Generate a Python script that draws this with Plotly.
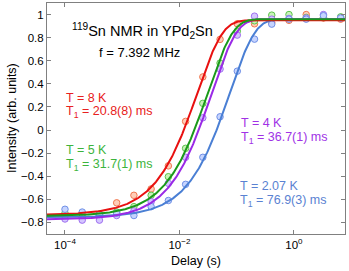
import numpy as np
import plotly.graph_objects as go

# Delay values (s)
delay = [1e-4, 2e-4, 4e-4, 8e-4, 1.6e-3, 3.2e-3, 6.4e-3, 1.28e-2, 2.56e-2,
         5.12e-2, 0.1024, 0.2048, 0.4096, 0.8192, 1.6384, 3.2768, 6.5536]

# Measured intensities
int_8K = [-0.74, -0.75, -0.73, -0.63, -0.565, -0.51, -0.31, 0.075, 0.46,
          0.785, 0.92, 0.92, 0.93, 0.95, 1.0, 0.97, 0.96]
int_5K = [-0.72, -0.755, -0.727, -0.71, -0.663, -0.565, -0.404, -0.158, 0.231,
          0.58, 0.856, 0.946, 0.995, 1.0, 0.975, 0.975, 0.98]
int_4K = [-0.77, -0.78, -0.78, -0.74, -0.70, -0.62, -0.461, -0.236, 0.106,
          0.528, 0.822, 0.986, 0.96, 0.966, 0.97, 1.0, 0.97]
int_2K = [-0.686, -0.71, -0.73, -0.72, -0.74, -0.663, -0.61, -0.47, -0.236,
          0.115, 0.51, 0.787, 0.917, 0.96, 0.96, 0.99, 0.97]

# Fit parameters: T1 (s), plateau, baseline
fit_T1 = [0.0208, 0.0317, 0.0367, 0.0769]
fit_plateau = [0.95, 0.96, 0.96, 0.96]
fit_base = [-0.735, -0.745, -0.775, -0.755]

labels_T = ["T = 8 K", "T = 5 K", "T = 4 K", "T = 2.07 K"]
labels_T1 = ["T<sub>1</sub> = 20.8(8) ms", "T<sub>1</sub> = 31.7(1) ms",
             "T<sub>1</sub> = 36.7(1) ms", "T<sub>1</sub> = 76.9(3) ms"]

x_tickvals = [1e-4, 1e-2, 1e0]
x_ticktext = ["10<sup>\u22124</sup>", "10<sup>\u22122</sup>", "10<sup>0</sup>"]
y_tickvals = [-0.8, -0.6, -0.4, -0.2, 0, 0.2, 0.4, 0.6, 0.8, 1]

series = [int_8K, int_5K, int_4K, int_2K]
line_col = ["#e81010", "#1a9a1a", "#9a2ae6", "#4a7fd4"]
mfill = ["#ffcdb8", "#c8f2b8", "#d4c6ff", "#c6d4ff"]
medge = ["#f07850", "#5cc44c", "#a070f0", "#7090e6"]
text_col = ["#e82020", "#3cb43c", "#a032e6", "#5a82d2"]

fig = go.Figure()

for i in range(4):
    fig.add_trace(go.Scatter(x=delay, y=series[i], mode="markers",
                             marker=dict(symbol="circle", size=6.5, color=mfill[i],
                                         line=dict(color=medge[i], width=1)),
                             showlegend=False, hoverinfo="skip"))

tgrid = np.logspace(-4.4, 1.0, 400)
for i in [3, 2, 0, 1]:
    yfit = fit_plateau[i] - (fit_plateau[i] - fit_base[i]) * np.exp(-tgrid / fit_T1[i])
    fig.add_trace(go.Scatter(x=tgrid, y=yfit, mode="lines",
                             line=dict(color=line_col[i], width=2),
                             showlegend=False, hoverinfo="skip"))

L, R, T, B = 47, 4, 3, 37
W, H = 349, 271
pw, ph = W - L - R, H - T - B


def px(x):
    return (x - L) / pw


def py(y):
    return (T + ph - y) / ph


font = "Liberation Sans, Arial, Helvetica, sans-serif"
ann = []
ann.append(dict(x=px(70), y=py(31), text="<sup>119</sup>Sn NMR in YPd<sub>2</sub>Sn",
                font=dict(color="black", size=14.5)))
ann.append(dict(x=px(97), y=py(52), text="f = 7.392 MHz", font=dict(color="black", size=13)))
pos = [(64, 98, 112), (64, 150, 165), (239, 123, 138), (238, 186, 201)]
for i in range(4):
    x0, y1, y2 = pos[i]
    ann.append(dict(x=px(x0), y=py(y1), text=labels_T[i], font=dict(color=text_col[i], size=12.5)))
    ann.append(dict(x=px(x0), y=py(y2), text=labels_T1[i], font=dict(color=text_col[i], size=12.5)))
for a in ann:
    a.update(xref="paper", yref="paper", xanchor="left", yanchor="middle", showarrow=False)

# axis titles
ann.append(dict(x=px(196), y=py(261), xref="paper", yref="paper", text="Delay (s)",
                showarrow=False, xanchor="center", yanchor="middle",
                font=dict(size=12.5, color="black")))
ann.append(dict(x=px(12), y=py(118), xref="paper", yref="paper", text="Intensity (arb. units)",
                showarrow=False, xanchor="center", yanchor="middle", textangle=-90,
                font=dict(size=12.5, color="black")))

fig.update_layout(
    width=W, height=H, margin=dict(l=L, r=R, t=T, b=B, autoexpand=False),
    paper_bgcolor="white", plot_bgcolor="white",
    font=dict(family=font, size=11, color="black"),
    annotations=ann,
    xaxis=dict(type="log", range=[np.log10(4.85e-5), np.log10(7.8)],
               tickvals=x_tickvals, ticktext=x_ticktext,
               ticks="inside", ticklen=4, tickcolor="#808080",
               showline=True, linecolor="#808080", linewidth=1, mirror="ticks",
               showgrid=False, zeroline=False, automargin=False,
               tickfont=dict(size=11.5)),
    yaxis=dict(range=[-0.9, 1.1], tickvals=y_tickvals,
               ticks="inside", ticklen=4, tickcolor="#808080",
               showline=True, linecolor="#808080", linewidth=1, mirror="ticks",
               showgrid=False, zeroline=False, automargin=False,
               tickfont=dict(size=11.5)),
)

fig.write_html("out.html", config={"displayModeBar": False},
               post_script="document.body.style.margin='0';")
